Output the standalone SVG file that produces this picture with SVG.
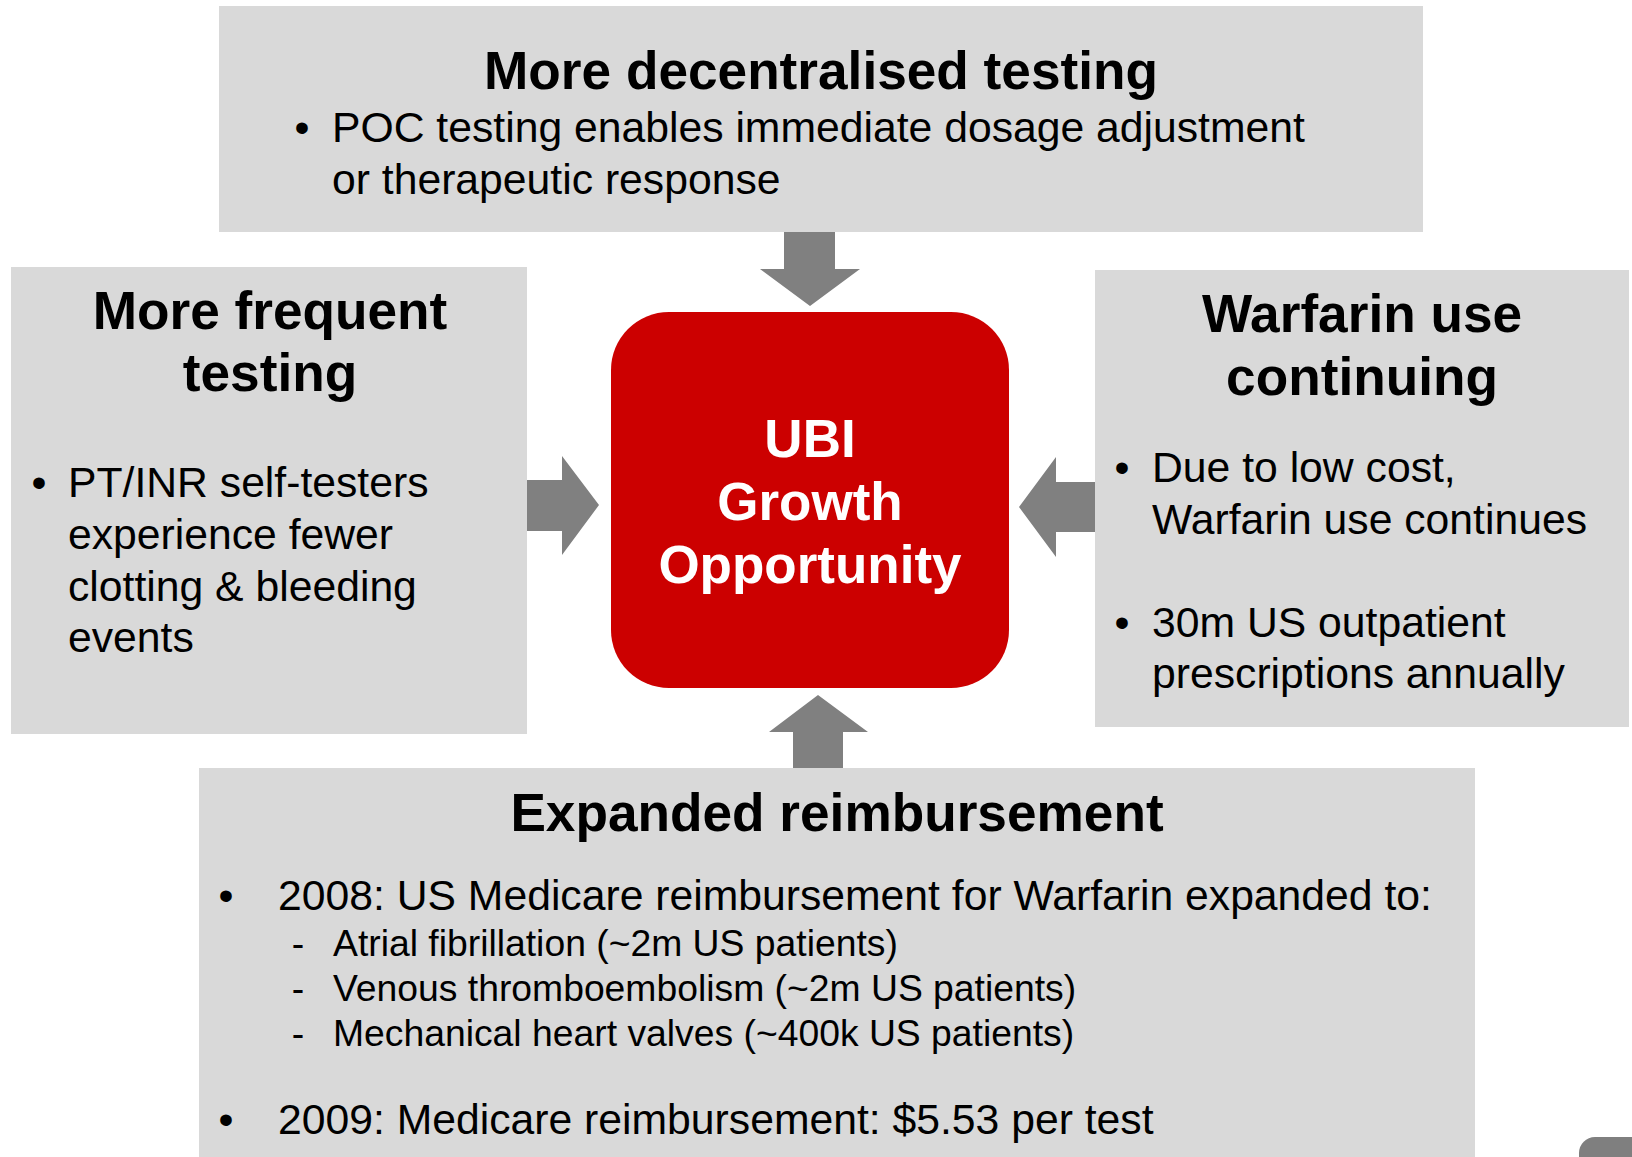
<svg xmlns="http://www.w3.org/2000/svg" width="1632" height="1157" viewBox="0 0 1632 1157">
<style>
.box{fill:#d9d9d9}
.arrow{fill:#808080}
.t{font-family:"Liberation Sans",Arial,sans-serif;fill:#000}
.h{font-weight:bold;font-size:53.2px}
.b{font-size:42.7px}
.s{font-size:37.3px}
.w{font-family:"Liberation Sans",Arial,sans-serif;font-weight:bold;font-size:53px;fill:#fff}
</style>
<rect width="1632" height="1157" fill="#fff"/>
<g id="connectors">
<polygon class="arrow" points="784,232 835,232 835,269 860,269 810,306 760,269 784,269"/>
<polygon class="arrow" points="525,480 562,480 562,456 599,505 562,555 562,531 525,531"/>
<polygon class="arrow" points="1095,482 1056,482 1056,457 1019,507 1056,557 1056,532 1095,532"/>
<polygon class="arrow" points="793,769 843,769 843,732 868,732 818,695 769,732 793,732"/>
</g>
<g id="top">
<rect class="box" x="219" y="6" width="1204" height="226"/>
<text class="t h" x="821" y="89" text-anchor="middle">More decentralised testing</text>
<text class="t b" x="302" y="142" text-anchor="middle">•</text>
<text class="t b" x="332" y="142">POC testing enables immediate dosage adjustment</text>
<text class="t b" x="332" y="194">or therapeutic response</text>
</g>
<g id="left">
<rect class="box" x="11" y="267" width="516" height="467"/>
<text class="t h" x="270" y="329" text-anchor="middle">More frequent</text>
<text class="t h" x="270" y="391" text-anchor="middle">testing</text>
<text class="t b" x="39" y="497" text-anchor="middle">•</text>
<text class="t b" x="68" y="497">PT/INR self-testers</text>
<text class="t b" x="68" y="549">experience fewer</text>
<text class="t b" x="68" y="601">clotting &amp; bleeding</text>
<text class="t b" x="68" y="652">events</text>
</g>
<g id="right">
<rect class="box" x="1095" y="270" width="534" height="457"/>
<text class="t h" x="1362" y="332" text-anchor="middle">Warfarin use</text>
<text class="t h" x="1362" y="395" text-anchor="middle">continuing</text>
<text class="t b" x="1122" y="482" text-anchor="middle">•</text>
<text class="t b" x="1152" y="482">Due to low cost,</text>
<text class="t b" x="1152" y="534">Warfarin use continues</text>
<text class="t b" x="1122" y="637" text-anchor="middle">•</text>
<text class="t b" x="1152" y="637">30m US outpatient</text>
<text class="t b" x="1152" y="688">prescriptions annually</text>
</g>
<g id="bottom">
<rect class="box" x="199" y="768" width="1276" height="389"/>
<text class="t h" x="837" y="831" text-anchor="middle">Expanded reimbursement</text>
<text class="t b" x="226" y="910" text-anchor="middle">•</text>
<text class="t b" x="278" y="910">2008: US Medicare reimbursement for Warfarin expanded to:</text>
<text class="t s" x="298" y="956" text-anchor="middle">-</text>
<text class="t s" x="333" y="956">Atrial fibrillation (~2m US patients)</text>
<text class="t s" x="298" y="1001" text-anchor="middle">-</text>
<text class="t s" x="333" y="1001">Venous thromboembolism (~2m US patients)</text>
<text class="t s" x="298" y="1046" text-anchor="middle">-</text>
<text class="t s" x="333" y="1046">Mechanical heart valves (~400k US patients)</text>
<text class="t b" x="226" y="1134" text-anchor="middle">•</text>
<text class="t b" x="278" y="1134">2009: Medicare reimbursement: $5.53 per test</text>
</g>
<g id="center">
<rect x="611" y="312" width="398" height="376" rx="58" ry="58" fill="#cc0000"/>
<text class="w" x="810" y="457" text-anchor="middle">UBI</text>
<text class="w" x="810" y="520" text-anchor="middle">Growth</text>
<text class="w" x="810" y="583" text-anchor="middle">Opportunity</text>
</g>
<g id="corner">
<rect x="1579" y="1137" width="80" height="60" rx="16" ry="16" fill="#7f7f7f"/>
</g>
</svg>
